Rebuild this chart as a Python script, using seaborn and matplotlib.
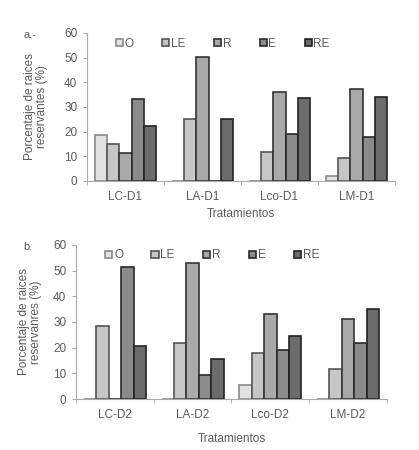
import numpy as np
import pandas as pd
import seaborn as sns
import matplotlib
matplotlib.use("Agg")
import matplotlib.pyplot as plt
from matplotlib.ticker import FixedLocator

series = ["O", "LE", "R", "E", "RE"]
trat_a = ["LC-D1", "LA-D1", "Lco-D1", "LM-D1"]
trat_b = ["LC-D2", "LA-D2", "Lco-D2", "LM-D2"]

# values per series, one entry per treatment
vals_a = {
    "O":  [18.5, 0, 0, 2.1],
    "LE": [15.0, 25.2, 11.6, 9.4],
    "R":  [11.2, 50.1, 36.1, 37.1],
    "E":  [33.4, 0, 19.2, 17.9],
    "RE": [22.3, 25.1, 33.5, 33.9],
}
vals_b = {
    "O":  [0, 0, 5.6, 0],
    "LE": [28.3, 22.0, 18.1, 11.6],
    "R":  [0, 53.1, 33.0, 31.1],
    "E":  [51.3, 9.5, 18.9, 22.0],
    "RE": [20.7, 15.6, 24.4, 35.0],
}

fills = ["#e2e2e2", "#c6c6c6", "#a9a9a9", "#8b8b8b", "#6c6c6c"]
edges = ["#8a8a8a", "#555555", "#333333", "#2a2a2a", "#222222"]
txt = "#5a5a5a"

sns.set_style("white")
plt.rcParams["font.family"] = ["Liberation Sans", "DejaVu Sans"]
plt.rcParams["font.size"] = 8


def to_long(trat, vals):
    rows = []
    for s in series:
        for t, v in zip(trat, vals[s]):
            rows.append({"trat": t, "serie": s, "val": v})
    return pd.DataFrame(rows)


fig = plt.figure(figsize=(4.19, 4.5), dpi=100)
ax_a = fig.add_axes([0.2076, 0.5978, 0.735, 0.3289])
ax_b = fig.add_axes([0.1814, 0.1133, 0.7422, 0.3423])


def draw(ax, trat, vals, ylab, tag, tag_y):
    df = to_long(trat, vals)
    sns.barplot(data=df, x="trat", y="val", hue="serie", order=trat,
                hue_order=series, palette=fills, width=0.8, ax=ax,
                saturation=1, errorbar=None)
    for cont, ec in zip(ax.containers, edges):
        for p in cont:
            p.set_edgecolor(ec)
            p.set_linewidth(1.2)
    ax.set_ylim(0, 60)
    ax.set_xlim(-0.5, len(trat) - 0.5)
    ax.set_yticks(range(0, 61, 10))
    ax.xaxis.set_minor_locator(FixedLocator(np.arange(-0.5, len(trat), 1)))
    ax.tick_params(axis="x", which="major", length=0, pad=7, colors=txt, labelsize=8.5)
    ax.tick_params(axis="x", which="minor", length=3, color="#aaaaaa", direction="out", bottom=True)
    ax.tick_params(axis="y", length=3, direction="out", left=True,
                   colors=txt, labelsize=8.5, pad=4)
    ax.tick_params(axis="y", color="#aaaaaa")
    for sp in ["top", "right"]:
        ax.spines[sp].set_visible(False)
    for sp in ["left", "bottom"]:
        ax.spines[sp].set_color("#aaaaaa")
        ax.spines[sp].set_linewidth(0.8)
    ax.set_xlabel("Tratamientos", color=txt, fontsize=8.5, labelpad=4)
    ax.set_ylabel(ylab, color=txt, fontsize=8.5, linespacing=1.0)
    ax.yaxis.set_label_coords(-0.125, 0.5)
    leg = ax.legend(ncol=5, loc="upper left", bbox_to_anchor=(0.06, 1.04),
                    frameon=False, handlelength=0.6, handleheight=0.6,
                    handletextpad=0.15, columnspacing=2.4, fontsize=8.5)
    for t in leg.get_texts():
        t.set_color(txt)
    for h, ec in zip(leg.legend_handles, edges):
        h.set_edgecolor(ec)
        h.set_linewidth(1.2)
    fig.text(0.055, tag_y, tag, color=txt, fontsize=8, ha="left", va="center")


draw(ax_a, trat_a, vals_a, "Porcentaje de raices\nreservantes (%)", "a.-", 1 - 35 / 450)
draw(ax_b, trat_b, vals_b, "Porcentaje de raices\nreservanres (%)", "b.", 1 - 247 / 450)
ax_b.xaxis.labelpad = 9
ax_b.yaxis.set_label_coords(-0.11, 0.5)

fig.savefig("out.png", dpi=100)
